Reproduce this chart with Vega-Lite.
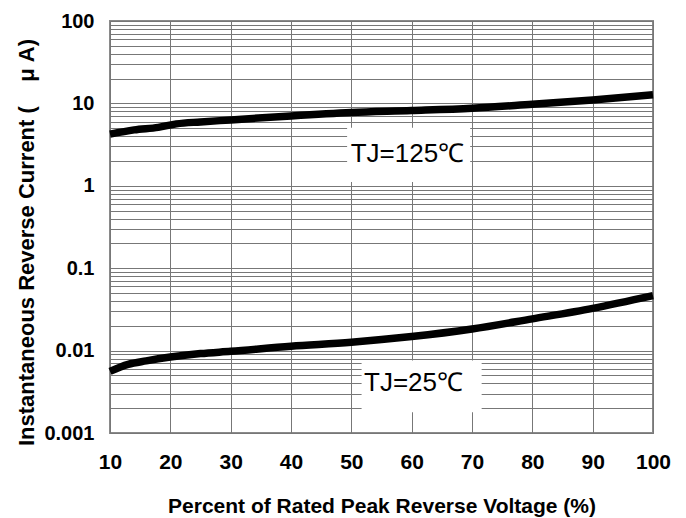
{
  "$schema": "https://vega.github.io/schema/vega-lite/v6.json",
  "width": 543,
  "height": 412,
  "autosize": {"type": "none"},
  "padding": {"left": 110, "top": 21, "right": 33, "bottom": 85},
  "background": "white",
  "config": {
    "view": {"stroke": "#8a8a8a", "strokeWidth": 2},
    "font": "Liberation Sans"
  },
  "datasets": {
    "curves": [
      {"series": "125", "pct": 10, "current": 4.23},
      {"series": "125", "pct": 14, "current": 4.77},
      {"series": "125", "pct": 18, "current": 5.12},
      {"series": "125", "pct": 21, "current": 5.64},
      {"series": "125", "pct": 25, "current": 5.96},
      {"series": "125", "pct": 30, "current": 6.3},
      {"series": "125", "pct": 40, "current": 7.05},
      {"series": "125", "pct": 50, "current": 7.74},
      {"series": "125", "pct": 60, "current": 8.18},
      {"series": "125", "pct": 70, "current": 8.74},
      {"series": "125", "pct": 80, "current": 9.78},
      {"series": "125", "pct": 90, "current": 11.0},
      {"series": "125", "pct": 100, "current": 12.7},
      {"series": "25", "pct": 10, "current": 0.0056},
      {"series": "25", "pct": 13, "current": 0.0068},
      {"series": "25", "pct": 16, "current": 0.0075},
      {"series": "25", "pct": 20, "current": 0.00835},
      {"series": "25", "pct": 25, "current": 0.0092},
      {"series": "25", "pct": 30, "current": 0.0098},
      {"series": "25", "pct": 40, "current": 0.0113},
      {"series": "25", "pct": 50, "current": 0.0126},
      {"series": "25", "pct": 55, "current": 0.0136},
      {"series": "25", "pct": 60, "current": 0.0148},
      {"series": "25", "pct": 70, "current": 0.0183},
      {"series": "25", "pct": 80, "current": 0.0243},
      {"series": "25", "pct": 90, "current": 0.0326},
      {"series": "25", "pct": 100, "current": 0.0465}
    ],
    "labels": [
      {"text": "TJ=125℃", "bx1": 49.3, "bx2": 69.7, "by1": 5.05, "by2": 1.11, "tx": 49.9, "ty": 1.97},
      {"text": "TJ=25℃", "bx1": 51.7, "bx2": 71.6, "by1": 0.00756, "by2": 0.00178, "tx": 52.1, "ty": 0.00327}
    ]
  },
  "layer": [
    {
      "data": {"name": "curves"},
      "mark": {"type": "line", "color": "black", "strokeWidth": 7.5, "interpolate": "monotone", "strokeCap": "butt"},
      "encoding": {
        "x": {
          "field": "pct",
          "type": "quantitative",
          "scale": {"domain": [10, 100], "nice": false, "zero": false},
          "axis": {
            "title": "Percent of Rated Peak Reverse Voltage (%)",
            "values": [10, 20, 30, 40, 50, 60, 70, 80, 90, 100],
            "grid": true,
            "gridColor": "#777777",
            "gridWidth": 1,
            "ticks": false,
            "domain": false,
            "labelFlush": false,
            "labelOverlap": false,
            "labelFont": "Liberation Sans",
            "labelFontSize": 21,
            "labelFontWeight": "bold",
            "labelColor": "black",
            "labelPadding": 18,
            "titleFont": "Liberation Sans",
            "titleFontSize": 21,
            "titleFontWeight": "bold",
            "titleColor": "black",
            "titleBaseline": "alphabetic",
            "titleY": 79
          }
        },
        "y": {
          "field": "current",
          "type": "quantitative",
          "scale": {"type": "log", "domain": [0.001, 100], "nice": false},
          "axis": {
            "title": "Instantaneous Reverse Current (\u00a0\u00a0\u00a0\u00a0μ A)",
            "values": [0.001, 0.002, 0.003, 0.004, 0.005, 0.006, 0.007, 0.008, 0.009,
                       0.01, 0.02, 0.03, 0.04, 0.05, 0.06, 0.07, 0.08, 0.09,
                       0.1, 0.2, 0.3, 0.4, 0.5, 0.6, 0.7, 0.8, 0.9,
                       1, 2, 3, 4, 5, 6, 7, 8, 9,
                       10, 20, 30, 40, 50, 60, 70, 80, 90, 100],
            "labelExpr": "indexof([0.001, 0.01, 0.1, 1, 10, 100], datum.value) >= 0 ? format(datum.value, '~g') : ''",
            "grid": true,
            "gridColor": "#777777",
            "gridWidth": 1,
            "ticks": false,
            "domain": false,
            "labelFlush": false,
            "labelOverlap": false,
            "labelFont": "Liberation Sans",
            "labelFontSize": 20,
            "labelFontWeight": "bold",
            "labelColor": "black",
            "labelPadding": 16,
            "titleFont": "Liberation Sans",
            "titleFontSize": 22,
            "titleFontWeight": "bold",
            "titleColor": "black",
            "titleAngle": 270,
            "titleAlign": "center",
            "titleBaseline": "alphabetic",
            "titleX": -77,
            "titleY": 221
          }
        },
        "detail": {"field": "series", "type": "nominal"}
      }
    },
    {
      "data": {"name": "labels"},
      "mark": {"type": "rect", "fill": "white", "stroke": null},
      "encoding": {
        "x": {"field": "bx1", "type": "quantitative", "title": "Percent of Rated Peak Reverse Voltage (%)"},
        "x2": {"field": "bx2"},
        "y": {"field": "by1", "type": "quantitative", "title": "Instantaneous Reverse Current (\u00a0\u00a0\u00a0\u00a0μ A)"},
        "y2": {"field": "by2"}
      }
    },
    {
      "data": {"name": "labels"},
      "mark": {"type": "text", "align": "left", "baseline": "alphabetic", "fontSize": 26, "font": "Liberation Sans", "color": "black"},
      "encoding": {
        "x": {"field": "tx", "type": "quantitative", "title": "Percent of Rated Peak Reverse Voltage (%)"},
        "y": {"field": "ty", "type": "quantitative", "title": "Instantaneous Reverse Current (\u00a0\u00a0\u00a0\u00a0μ A)"},
        "text": {"field": "text", "type": "nominal"}
      }
    }
  ]
}
